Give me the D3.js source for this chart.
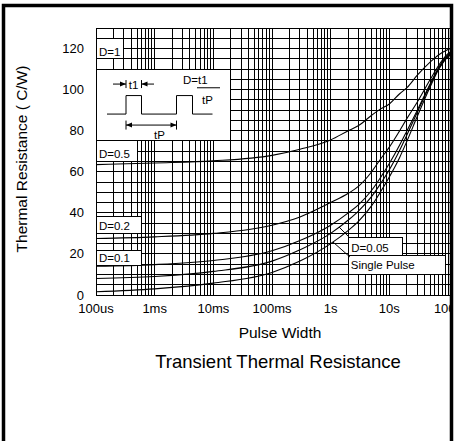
<!DOCTYPE html>
<html><head><meta charset="utf-8">
<script src="https://cdn.jsdelivr.net/npm/d3@7"></script>
<style>
html,body{margin:0;padding:0;background:#fff;}
svg{display:block;font-family:"Liberation Sans",Arial,Helvetica,sans-serif;}
</style></head>
<body><svg id="c" width="456" height="441"></svg>
<script>
// ---- data ----
const times = [1e-4, 1e-3, 1e-2, 0.1, 0.3, 1, 2, 3, 5, 7, 10, 15, 20, 30, 50, 70, 100, 120];
const d050 = [63.5, 64.3, 65.3, 68, 71, 75.5, 80, 82.5, 87.5, 90.5, 93, 98, 101, 107, 113.5, 117, 119.5, 120.5];
const d020 = [27.5, 28.3, 30, 34, 38, 45, 49.5, 53, 60, 66, 72, 80, 86, 94, 105, 112, 117.5, 119];
const d010 = [14, 14.8, 16.8, 21.5, 26.5, 34, 40, 44, 51, 57, 64, 73, 80, 90, 103, 111, 117, 118.5];
const d005 = [8, 9, 11.5, 16.5, 22, 30, 36.5, 41, 48, 54, 61, 70.5, 78, 89, 102.5, 110.5, 116.5, 118];
const single = [1.6, 3, 5.8, 11, 16.5, 25, 31.5, 36, 43.5, 50, 57.5, 67, 75, 87, 101.5, 110, 116, 117.5];
const seriesNames = ["D=0.5", "D=0.2", "D=0.1", "D=0.05", "Single Pulse"];
const xTickVals = [1e-4, 1e-3, 1e-2, 1e-1, 1, 10, 100];
const xTickLabels = ["100us", "1ms", "10ms", "100ms", "1s", "10s", "100s"];
const yTickVals = [0, 20, 40, 60, 80, 100, 120];
// label boxes in data units [t0, t1, v0, v1]
const boxD1 = [1e-4, 3e-4, 115, 125];
const boxD05 = [1e-4, 5e-4, 65, 75];
const boxD02 = [1e-4, 6e-4, 30, 38];
const boxD01 = [1e-4, 6e-4, 14.6, 21.8];
const boxD005 = [2, 17, 19, 28.2];
const boxSingle = [2, 90, 10, 19];
const boxInset = [1e-4, 2e-2, 75, 110];
const leaderD005 = [[2.13, 27.75], [1.39, 33.1]];
const leaderSingle = [[2.13, 18.5], [1.095, 25.8]];

// ---- scales ----
const x = d3.scaleLog().domain([1e-4, 100]).range([96, 448]);
const y = d3.scaleLinear().domain([0, 130]).range([295, 28]);
const xMax = 450;

const svg = d3.select("#c");
const g = svg.append("g");

// grid
const vGrid = [];
for (let e = -4; e <= 2; e++) for (let m = 1; m <= 9; m++) { const v = m * Math.pow(10, e); if (v <= 100.0001) vGrid.push(v); }
vGrid.push(110);
g.append("g").selectAll("line").data(vGrid).join("line")
  .attr("x1", d => x(d)).attr("x2", d => x(d)).attr("y1", y(130)).attr("y2", y(0))
  .attr("stroke", "#000").attr("stroke-width", 1).attr("shape-rendering", "crispEdges")
  .attr("display", d => x(d) > xMax ? "none" : null);
g.append("g").selectAll("line").data(d3.range(0, 131, 5)).join("line")
  .attr("x1", x(1e-4)).attr("x2", xMax).attr("y1", d => y(d)).attr("y2", d => y(d))
  .attr("stroke", "#000").attr("stroke-width", 1).attr("shape-rendering", "crispEdges");

// clip
svg.append("clipPath").attr("id", "pc").append("rect")
  .attr("x", x(1e-4)).attr("y", y(130)).attr("width", xMax - x(1e-4)).attr("height", y(0) - y(130));

// curves
const line = d3.line().x(d => x(d[0])).y(d => y(d[1])).curve(d3.curveMonotoneX);
const all = [d050, d020, d010, d005, single];
g.append("g").attr("clip-path", "url(#pc)").selectAll("path").data(all).join("path")
  .attr("d", s => line(times.map((t, i) => [t, s[i]])))
  .attr("fill", "none").attr("stroke", "#000").attr("stroke-width", 1.1);

// boxes
function box(b) {
  g.append("rect").attr("x", x(b[0])).attr("y", y(b[3]))
    .attr("width", x(b[1]) - x(b[0])).attr("height", y(b[2]) - y(b[3]))
    .attr("fill", "#fff").attr("stroke", "#000").attr("stroke-width", 1).attr("shape-rendering", "crispEdges");
}
[boxD1, boxD05, boxD02, boxD01, boxD005, boxSingle, boxInset].forEach(box);

const lab = (t, v, txt, size) => g.append("text").attr("x", x(t)).attr("y", y(v))
  .attr("font-size", size || 11.5).attr("fill", "#000").text(txt);
lab(1.12e-4, 116.5, "D=1");
lab(1.12e-4, 66.5, "D=0.5");
lab(1.12e-4, 31.5, "D=0.2");
lab(1.12e-4, 16, "D=0.1");
lab(2.25, 20.9, "D=0.05");
lab(2.2, 12.8, "Single Pulse");

// leaders
const ll = d3.line().x(d => x(d[0])).y(d => y(d[1]));
[leaderD005, leaderSingle].forEach(l => g.append("path").attr("d", ll(l)).attr("stroke", "#000").attr("fill", "none").attr("stroke-width", 1));

// inset pulse diagram (coordinates relative to inset box)
const ix = x(boxInset[0]), iy = y(boxInset[3]);
const ins = g.append("g").attr("transform", `translate(${ix},${iy})`);
const wave = [[11,45],[30,45],[30,26.5],[45.5,26.5],[45.5,45],[80.5,45],[80.5,26.5],[96.5,26.5],[96.5,45],[116.5,45]];
ins.append("path").attr("d", d3.line()(wave)).attr("fill", "none").attr("stroke", "#000").attr("stroke-width", 1);
const ln = (x1, y1, x2, y2) => ins.append("line").attr("x1", x1).attr("y1", y1).attr("x2", x2).attr("y2", y2).attr("stroke", "#000").attr("stroke-width", 1);
const arrow = (xt, yt, dir) => ins.append("path").attr("d", `M${xt},${yt} L${xt - dir * 6},${yt - 2.5} L${xt - dir * 6},${yt + 2.5} Z`).attr("fill", "#000");
// t1
ln(17, 15, 30, 15); arrow(30, 15, 1); ln(30, 11, 30, 19);
ln(45.5, 15, 58, 15); arrow(45.5, 15, -1); ln(45.5, 11, 45.5, 19);
ins.append("text").attr("x", 37.5).attr("y", 19.5).attr("text-anchor", "middle").attr("font-size", 11.5).text("t1");
// tP
ln(30, 56, 80.5, 56); arrow(30, 56, -1); arrow(80.5, 56, 1); ln(30, 51.5, 30, 60.5); ln(80.5, 51.5, 80.5, 60.5);
ins.append("text").attr("x", 63.5).attr("y", 70).attr("text-anchor", "middle").attr("font-size", 11.5).text("tP");
// D = t1/tP
ins.append("text").attr("x", 87).attr("y", 15).attr("font-size", 11.5).text("D=t1");
ln(101, 18.7, 124, 18.7);
ins.append("text").attr("x", 106).attr("y", 35).attr("font-size", 11.5).text("tP");

// axes labels
g.append("g").selectAll("text").data(xTickVals).join("text")
  .attr("x", d => x(d)).attr("y", 313).attr("text-anchor", "middle").attr("font-size", 13)
  .text((d, i) => xTickLabels[i]);
g.append("g").selectAll("text").data(yTickVals).join("text")
  .attr("x", 84).attr("y", d => y(d) + 4.5).attr("text-anchor", "end").attr("font-size", 13)
  .text(d => d);

svg.append("text").attr("x", 280).attr("y", 338).attr("text-anchor", "middle").attr("font-size", 15.5).text("Pulse Width");
svg.append("text").attr("x", 278).attr("y", 368).attr("text-anchor", "middle").attr("font-size", 18.5).text("Transient Thermal Resistance");
svg.append("text").attr("transform", "translate(27,159) rotate(-90)").attr("text-anchor", "middle").attr("font-size", 15.5).text("Thermal Resistance ( C/W)");

// frame
svg.append("rect").attr("x", 453).attr("y", 0).attr("width", 3).attr("height", 441).attr("fill", "#fff");
svg.append("path").attr("d", "M3.5,441 L3.5,5.5 L451.5,5.5 L451.5,441").attr("fill", "none").attr("stroke", "#000").attr("stroke-width", 3.5);
</script></body></html>
